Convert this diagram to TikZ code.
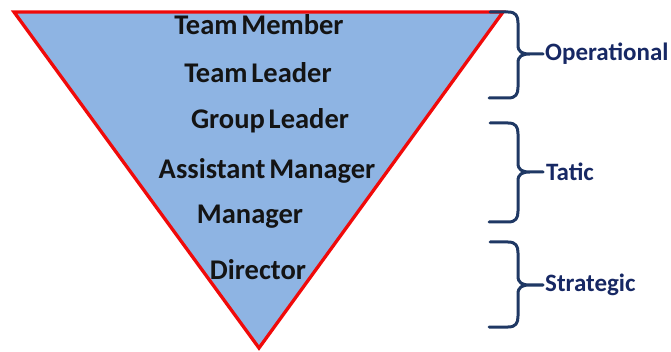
\documentclass[tikz,border=0pt]{standalone}
\usepackage{fontspec}
\setmainfont{Carlito}[WordSpace=0.6]
\definecolor{pyrfill}{RGB}{142,180,227}
\definecolor{pyredge}{RGB}{240,10,10}
\definecolor{bracecol}{RGB}{31,56,100}
\definecolor{labcol}{RGB}{23,40,100}
\begin{document}
\begin{tikzpicture}[x=1pt,y=-1pt,
  rank/.style={font=\bfseries\fontsize{28.5}{30}\selectfont, text=black!92, inner sep=0pt},
  level/.style={font=\bfseries\fontsize{25}{27}\selectfont, text=labcol, anchor=west, inner sep=0pt},
  bracket/.style={draw=bracecol, line width=3pt, line cap=round, line join=round}]
\useasboundingbox (0,0) rectangle (671,352);
% inverted pyramid
\coordinate (tl) at (14,12);
\coordinate (tr) at (503,12);
\coordinate (bt) at (259,348);
\filldraw[fill=pyrfill, draw=pyredge, line width=3.3pt, line join=miter] (tl) -- (tr) -- (bt) -- cycle;
% ranks
\node[rank] (m1) at (259,25) {Team Member};
\node[rank] (m2) at (258,73) {Team Leader};
\node[rank] (m3) at (270,121) {Group Leader};
\node[rank] (m4) at (267,171) {Assistant Manager};
\node[rank] (m5) at (250,217) {Manager};
\node[rank] (m6) at (258,270) {Director};
% braces: top y, bottom y, tip y
\newcommand{\levelbrace}[4]{%
  \coordinate (#4) at (543,#3);
  \draw[bracket] (490,#1) -- (508,#1) .. controls (516,#1) and (518,#1+4) .. (518,#1+11)
    -- (518,#3-9) .. controls (518,#3-2) and (522,#3) .. (530,#3) -- (#4)
    (530,#3) .. controls (522,#3) and (518,#3+2) .. (518,#3+9)
    -- (518,#2-11) .. controls (518,#2-4) and (516,#2) .. (508,#2) -- (489,#2);}
\levelbrace{12}{98}{54}{b1}
\levelbrace{123}{222}{172}{b2}
\levelbrace{242}{327}{285}{b3}
\node[level] (l1) at ([xshift=2pt]b1) {Operational};
\node[level] (l2) at ([xshift=3pt]b2) {Tatic};
\node[level] (l3) at ([xshift=2pt]b3) {Strategic};
\end{tikzpicture}
\end{document}
